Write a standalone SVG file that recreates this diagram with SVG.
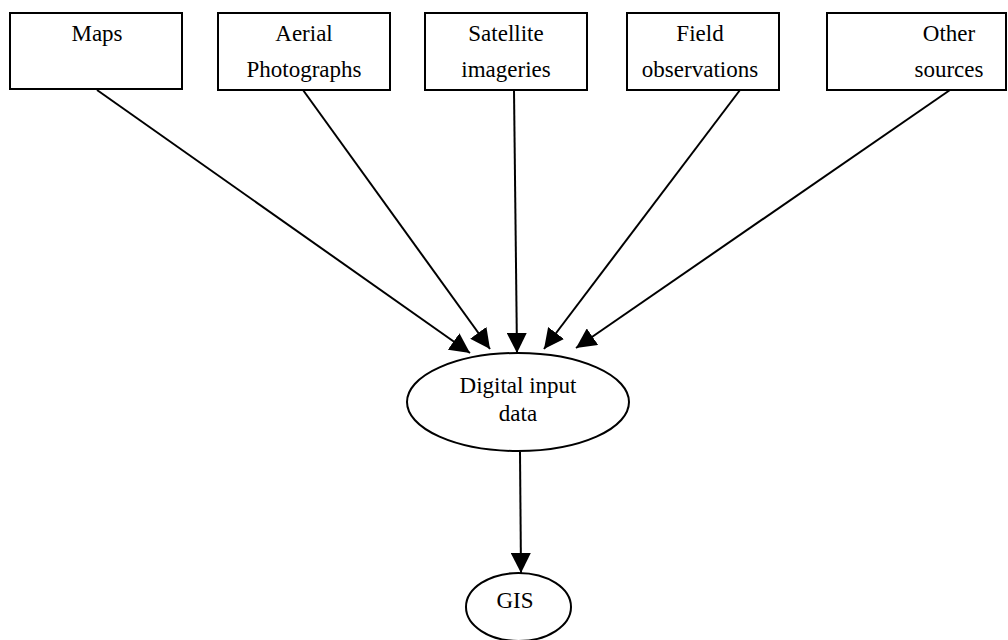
<svg xmlns="http://www.w3.org/2000/svg" width="1008" height="640" viewBox="0 0 1008 640">
<style>
.box{fill:#fff;stroke:#000;stroke-width:2}
.lbl{font-family:'Liberation Serif','DejaVu Serif',serif;font-size:23px;fill:#000;text-anchor:middle}
.conn{stroke:#000;stroke-width:2;fill:none;marker-end:url(#ah)}
</style>
<defs>
<marker id="ah" markerUnits="userSpaceOnUse" markerWidth="20" markerHeight="20" refX="20" refY="10" orient="auto" viewBox="0 0 20 20">
<path d="M0,0 L20,10 L0,20 z" fill="#000"/>
</marker>
</defs>
<rect width="1008" height="640" fill="#fff"/>
<g id="connectors">
<line class="conn" x1="97" y1="90" x2="470" y2="353"/>
<line class="conn" x1="303" y1="90" x2="490" y2="349"/>
<line class="conn" x1="514" y1="90" x2="517" y2="353"/>
<line class="conn" x1="740" y1="90" x2="544" y2="349"/>
<line class="conn" x1="950" y1="90" x2="576" y2="348"/>
<line class="conn" x1="520" y1="452" x2="521" y2="573"/>
</g>
<g id="maps">
<rect class="box" x="10" y="13" width="172" height="76"/>
<text class="lbl" x="97" y="41" font-family="Liberation Serif, serif">Maps</text>
</g>
<g id="aerial">
<rect class="box" x="218" y="13" width="172" height="77"/>
<text class="lbl" x="304" y="41" font-family="Liberation Serif, serif">Aerial</text>
<text class="lbl" x="304" y="77" font-family="Liberation Serif, serif">Photographs</text>
</g>
<g id="satellite">
<rect class="box" x="425" y="13" width="162" height="77"/>
<text class="lbl" x="506" y="41" font-family="Liberation Serif, serif">Satellite</text>
<text class="lbl" x="506" y="77" font-family="Liberation Serif, serif">imageries</text>
</g>
<g id="field">
<rect class="box" x="627" y="13" width="152" height="77"/>
<text class="lbl" x="700" y="41" font-family="Liberation Serif, serif">Field</text>
<text class="lbl" x="700" y="77" font-family="Liberation Serif, serif">observations</text>
</g>
<g id="other">
<rect class="box" x="827" y="13" width="179" height="77"/>
<text class="lbl" x="949" y="41" font-family="Liberation Serif, serif">Other</text>
<text class="lbl" x="949" y="77" font-family="Liberation Serif, serif">sources</text>
</g>
<g id="digital">
<ellipse class="box" cx="518" cy="402" rx="111" ry="49"/>
<text class="lbl" x="518" y="393" font-family="Liberation Serif, serif">Digital input</text>
<text class="lbl" x="518" y="421" font-family="Liberation Serif, serif">data</text>
</g>
<g id="gis">
<ellipse class="box" cx="518.5" cy="607" rx="52.5" ry="34"/>
<text class="lbl" x="515" y="608" font-family="Liberation Serif, serif">GIS</text>
</g>
</svg>
